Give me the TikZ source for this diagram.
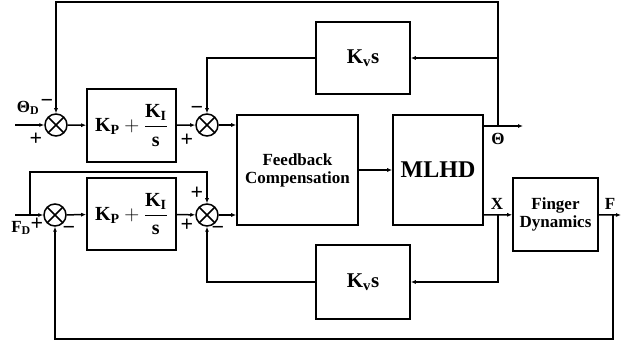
\documentclass[tikz,border=0pt]{standalone}
\usepackage{fontspec}
\usepackage{amsmath}
\setmainfont{Liberation Serif}
\usetikzlibrary{arrows.meta}

\begin{document}
\begin{tikzpicture}[
x=1pt, y=-1pt, line width=1.5pt,
block/.style={draw, line width=1.6pt, align=center, inner sep=0,
  font=\bfseries\fontsize{17}{18}\selectfont},
sum/.style={circle, draw, minimum size=22pt, inner sep=0,
  path picture={\draw (path picture bounding box.north west) -- (path picture bounding box.south east)
    (path picture bounding box.north east) -- (path picture bounding box.south west);}},
arr/.style={-{Latex[length=5pt,width=4pt]}},
lbl/.style={inner sep=0, font=\bfseries\fontsize{17}{17}\selectfont},
sgn/.style={inner sep=0, font=\bfseries\fontsize{22}{22}\selectfont}
]
\useasboundingbox (0,0) rectangle (622,344);

% blocks
\node[block, minimum width=89pt, minimum height=73pt, font=\bfseries\fontsize{20}{20}\selectfont]
  (pi1) at (131.5,125.5) {$\text{K}_{\text{P}}+\dfrac{\text{K}_{\text{I}}}{\text{s}}$};
\node[block, minimum width=89pt, minimum height=72pt, font=\bfseries\fontsize{20}{20}\selectfont]
  (pi2) at (131.5,214) {$\text{K}_{\text{P}}+\dfrac{\text{K}_{\text{I}}}{\text{s}}$};
\node[block, minimum width=121pt, minimum height=110pt] (fb) at (297.5,170) {Feedback\\Compensation};
\node[block, minimum width=90pt, minimum height=110pt, font=\bfseries\fontsize{24}{24}\selectfont]
  (mlhd) at (438,170) {MLHD};
\node[block, minimum width=94pt, minimum height=72pt, font=\bfseries\fontsize{21}{21}\selectfont]
  (kv1) at (363,58) {$\text{K}_{\text{v}}\text{s}$};
\node[block, minimum width=94pt, minimum height=74pt, font=\bfseries\fontsize{21}{21}\selectfont]
  (kv2) at (363,282) {$\text{K}_{\text{v}}\text{s}$};
\node[block, minimum width=85pt, minimum height=73pt] (fin) at (555.5,214.5) {Finger\\Dynamics};

% summing junctions
\node[sum] (s1) at (56,125) {};
\node[sum] (s2) at (207,125) {};
\node[sum] (s3) at (55,215) {};
\node[sum] (s4) at (207,215) {};

% branch points and free ends
\coordinate (in1) at (15,125);
\coordinate (in3) at (15,215);
\coordinate (by) at (30,215);
\coordinate (byTop) at (120,172);
\coordinate (o1) at (498,126);
\coordinate (o2) at (498,215);
\coordinate (o3) at (613,215);
\coordinate (out1) at (523,126);
\coordinate (out3) at (621,215);
\coordinate (top) at (280,2);
\coordinate (bot) at (300,339);

% forward paths
\draw[arr] (in1) -- (s1);
\draw[arr] (s1) -- (pi1);
\draw[arr] (pi1) -- (s2);
\draw[arr] (s2) -- (fb.west |- s2);
\draw[arr] (in3) -- (s3);
\draw[arr] (s3) -- (pi2);
\draw[arr] (pi2) -- (s4);
\draw[arr] (s4) -- (fb.west |- s4);
\draw[arr] (fb) -- (mlhd);
\draw[arr] (mlhd.east |- o1) -- (out1);
\draw[arr] (mlhd.east |- o2) -- (fin);
\draw[arr] (fin) -- (out3);

% feedback paths
\draw[arr] (o1) |- (top) -| (s1);
\draw[arr] (o1) |- (kv1);
\draw[arr] (kv1) -| (s2);
\draw[arr] (o2) |- (kv2);
\draw[arr] (kv2) -| (s4);
\draw[arr] (o3) |- (bot) -| (s3);
\draw[arr] (by) |- (byTop) -| (s4);

% labels
\node[lbl] (thd) at (28,108) {Θ\textsubscript{D}};
\node[lbl] (fd) at (21,228) {F\textsubscript{D}};
\node[lbl] (th) at (498,139) {Θ};
\node[lbl] (xx) at (497,204) {X};
\node[lbl] (ff) at (610,204) {F};
\node[sgn] (m1) at (47,103) {−};
\node[sgn] (p1) at (36,139) {+};
\node[sgn] (m2) at (197,110) {−};
\node[sgn] (p2) at (187,140) {+};
\node[sgn] (p3) at (37,224) {+};
\node[sgn] (m3) at (69,230) {−};
\node[sgn] (p4) at (197,193) {+};
\node[sgn] (p5) at (187,225) {+};
\node[sgn] (m4) at (218,230) {−};
\end{tikzpicture}
\end{document}
